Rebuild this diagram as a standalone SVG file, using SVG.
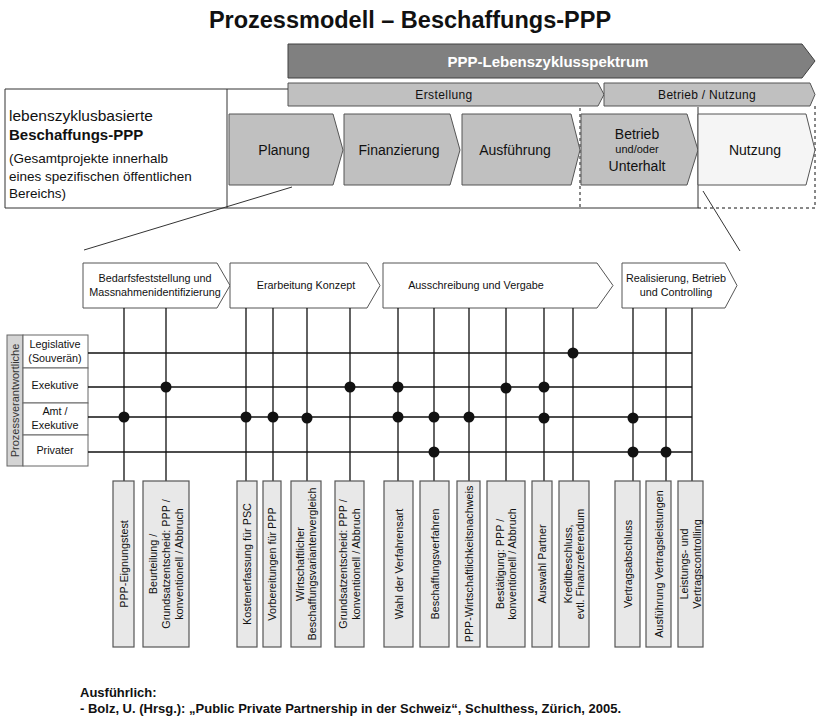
<svg xmlns="http://www.w3.org/2000/svg" width="820" height="724" viewBox="0 0 820 724">
<style>
text{font-family:"Liberation Sans",Arial,sans-serif;fill:#111}
.t{font-size:14px;text-anchor:middle}
.ph{fill:#c0c0c0;stroke:#555;stroke-width:1}
.wp{fill:#fff;stroke:#555;stroke-width:1}
.pt{font-size:10.8px;text-anchor:middle}
.bx{fill:#e8e8e8;stroke:#555;stroke-width:1.2}
.bt{font-size:10.8px;text-anchor:middle}
.rl{font-size:10.8px;text-anchor:middle}
.ln{stroke:#111;stroke-width:1.3;fill:none}
.gl{stroke:#666;stroke-width:1;fill:none}
.dot{fill:#111}
.ds{stroke:#111;stroke-width:1;stroke-dasharray:3,3;fill:none}
</style>
<rect width="820" height="724" fill="#fff"/>
<text x="410" y="28" style="font-size:23.5px;font-weight:bold;text-anchor:middle">Prozessmodell – Beschaffungs-PPP</text>

<g id="lebenszyklus">
<polygon points="288,44 802,44 815,61 802,78 288,78" fill="#808080" stroke="#404040"/>
<text x="548" y="67" style="font-size:15px;font-weight:bold;text-anchor:middle;fill:#fff">PPP-Lebenszyklusspektrum</text>
</g>
<g id="erstellung">
<polygon points="288,83 598,83 604,94.5 598,106 288,106" class="ph"/>
<text x="444" y="98.5" style="font-size:12px;text-anchor:middle;letter-spacing:0.4px">Erstellung</text>
</g>
<g id="betrieb-nutzung">
<polygon points="604,83 810,83 815,94.5 810,106 604,106" class="ph"/>
<text x="707" y="98.5" style="font-size:12px;text-anchor:middle;letter-spacing:0.3px">Betrieb / Nutzung</text>
</g>

<g id="frame">
<polyline points="288,89 5,89 5,208 698,208" class="gl" style="stroke:#333"/>
<line x1="227" y1="89" x2="227" y2="208" class="gl" style="stroke:#333"/>
<line x1="698" y1="107" x2="698" y2="208" class="gl" style="stroke:#333"/>
<line x1="698" y1="208" x2="815" y2="208" class="ds"/>
<line x1="580" y1="108" x2="580" y2="208" class="ds"/>
<line x1="815" y1="106" x2="815" y2="208" class="ds"/>
</g>

<g id="left-box">
<text x="9" y="121" style="font-size:15.5px">lebenszyklusbasierte</text>
<text x="9" y="140" style="font-size:15px;font-weight:bold">Beschaffungs-PPP</text>
<text x="9" y="163" style="font-size:13.5px">(Gesamtprojekte innerhalb</text>
<text x="9" y="181" style="font-size:13.5px">eines spezifischen öffentlichen</text>
<text x="9" y="198" style="font-size:13.5px">Bereichs)</text>
</g>

<g id="planung"><polygon points="229,114 333,114 343,150 333,185 229,185" class="ph"/><text x="284" y="155" class="t">Planung</text></g>
<g id="finanzierung"><polygon points="344,114 450,114 460,150 450,185 344,185" class="ph"/><text x="399" y="155" class="t">Finanzierung</text></g>
<g id="ausfuehrung"><polygon points="462,114 571,114 580,150 571,185 462,185" class="ph"/><text x="515" y="155" class="t">Ausführung</text></g>
<g id="betrieb"><polygon points="581,114 687,114 698,150 687,185 581,185" class="ph"/>
<text x="637" y="139" class="t">Betrieb</text><text x="637" y="153" style="font-size:11px;text-anchor:middle">und/oder</text><text x="637" y="171" class="t">Unterhalt</text></g>
<g id="nutzung"><polygon points="698,114 806,114 815,150 806,185 698,185" fill="#f5f5f5" stroke="#555"/><text x="755" y="155" class="t">Nutzung</text></g>

<g id="zoom-lines">
<line x1="292" y1="187" x2="84" y2="250" class="gl" style="stroke:#333"/>
<line x1="703" y1="191" x2="740" y2="251" class="gl" style="stroke:#333"/>
</g>

<g id="phase-bedarf"><polygon points="83,263 217,263 230,285.5 217,308 83,308" class="wp"/>
<text x="155" y="282" class="pt">Bedarfsfeststellung und</text><text x="155" y="295.5" class="pt">Massnahmenidentifizierung</text></g>
<g id="phase-konzept"><polygon points="230,263 367,263 380,285.5 367,308 230,308" class="wp"/>
<text x="306" y="289" class="pt">Erarbeitung Konzept</text></g>
<g id="phase-ausschreibung"><polygon points="383,263 597,263 613,285.5 597,308 383,308" class="wp"/>
<text x="476" y="289" class="pt">Ausschreibung und Vergabe</text></g>
<g id="phase-realisierung"><polygon points="622,263 725,263 737,285.5 725,308 622,308" class="wp"/>
<text x="676" y="282" class="pt">Realisierung, Betrieb</text><text x="676" y="295.5" class="pt">und Controlling</text></g>

<g id="roles">
<rect x="7" y="335" width="16" height="131" fill="#d4d4d4" stroke="#666"/>
<text transform="translate(19,400.5) rotate(-90)" style="font-size:11px;text-anchor:middle;fill:#333">Prozessverantwortliche</text>
<rect x="23" y="335" width="65" height="33" fill="#fff" stroke="#666"/>
<rect x="23" y="368" width="65" height="35" fill="#fff" stroke="#666"/>
<rect x="23" y="403" width="65" height="32" fill="#fff" stroke="#666"/>
<rect x="23" y="435" width="65" height="31" fill="#fff" stroke="#666"/>
<text x="55" y="348" class="rl">Legislative</text><text x="55" y="362" class="rl">(Souverän)</text>
<text x="55" y="389" class="rl">Exekutive</text>
<text x="55" y="415" class="rl">Amt /</text><text x="55" y="428.5" class="rl">Exekutive</text>
<text x="55" y="454" class="rl">Privater</text>
</g>

<g id="connectors">
<line x1="88" y1="353" x2="692" y2="353" class="ln"/>
<line x1="88" y1="387" x2="692" y2="387" class="ln"/>
<line x1="88" y1="417" x2="692" y2="417" class="ln"/>
<line x1="88" y1="452" x2="692" y2="452" class="ln"/>
<path class="ln" d="M124,308V481M166,308V481M246,308V481M273,308V481M307,308V481M350,308V481M398,308V481M434,308V481M469,308V481M506,308V481M544,308V481M573,308V481M633,308V481M666,308V481M692,308V481"/>
<circle cx="124" cy="417" r="5.5" class="dot"/>
<circle cx="166" cy="387" r="5.5" class="dot"/>
<circle cx="246" cy="417" r="5.5" class="dot"/>
<circle cx="273" cy="417" r="5.5" class="dot"/>
<circle cx="307" cy="418" r="5.5" class="dot"/>
<circle cx="350" cy="387" r="5.5" class="dot"/>
<circle cx="398" cy="387" r="5.5" class="dot"/>
<circle cx="398" cy="417" r="5.5" class="dot"/>
<circle cx="434" cy="417" r="5.5" class="dot"/>
<circle cx="434" cy="452" r="5.5" class="dot"/>
<circle cx="469" cy="417" r="5.5" class="dot"/>
<circle cx="506" cy="388" r="5.5" class="dot"/>
<circle cx="544" cy="387" r="5.5" class="dot"/>
<circle cx="544" cy="418" r="5.5" class="dot"/>
<circle cx="573" cy="353" r="5.5" class="dot"/>
<circle cx="633" cy="418" r="5.5" class="dot"/>
<circle cx="633" cy="452" r="5.5" class="dot"/>
<circle cx="666" cy="452" r="5.5" class="dot"/>
</g>

<g id="b1"><rect x="113" y="481" width="21" height="166" class="bx"/><text transform="translate(127.5,564) rotate(-90)" class="bt">PPP-Eignungstest</text></g>
<g id="b2"><rect x="143" y="481" width="46" height="166" class="bx"/><text transform="translate(170,564) rotate(-90)" class="bt"><tspan x="0" y="-13">Beurteilung /</tspan><tspan x="0" y="0">Grundsatzentscheid: PPP /</tspan><tspan x="0" y="13">konventionell / Abbruch</tspan></text></g>
<g id="b3"><rect x="237" y="481" width="20" height="166" class="bx"/><text transform="translate(251,564) rotate(-90)" class="bt">Kostenerfassung für PSC</text></g>
<g id="b4"><rect x="263" y="481" width="18" height="166" class="bx"/><text transform="translate(276,564) rotate(-90)" class="bt">Vorbereitungen für PPP</text></g>
<g id="b5"><rect x="291" y="481" width="30" height="166" class="bx"/><text transform="translate(310,564) rotate(-90)" class="bt"><tspan x="0" y="-6.3">Wirtschaftlicher</tspan><tspan x="0" y="6.3">Beschaffungsvariantenvergleich</tspan></text></g>
<g id="b6"><rect x="335" y="481" width="29" height="166" class="bx"/><text transform="translate(353.5,564) rotate(-90)" class="bt"><tspan x="0" y="-6.3">Grundsatzentscheid: PPP /</tspan><tspan x="0" y="6.3">konventionell / Abbruch</tspan></text></g>
<g id="b7"><rect x="384" y="481" width="29" height="166" class="bx"/><text transform="translate(402.5,564) rotate(-90)" class="bt">Wahl der Verfahrensart</text></g>
<g id="b8"><rect x="420" y="481" width="29" height="166" class="bx"/><text transform="translate(438.5,564) rotate(-90)" class="bt">Beschaffungsverfahren</text></g>
<g id="b9"><rect x="457" y="481" width="23" height="166" class="bx"/><text transform="translate(472.5,564) rotate(-90)" class="bt">PPP-Wirtschaftlichkeitsnachweis</text></g>
<g id="b10"><rect x="487" y="481" width="38" height="166" class="bx"/><text transform="translate(510,564) rotate(-90)" class="bt"><tspan x="0" y="-6.3">Bestätigung: PPP /</tspan><tspan x="0" y="6.3">konventionell / Abbruch</tspan></text></g>
<g id="b11"><rect x="532" y="481" width="20" height="166" class="bx"/><text transform="translate(546,564) rotate(-90)" class="bt">Auswahl Partner</text></g>
<g id="b12"><rect x="559" y="481" width="30" height="166" class="bx"/><text transform="translate(578,564) rotate(-90)" class="bt"><tspan x="0" y="-6.3">Kreditbeschluss,</tspan><tspan x="0" y="6.3">evtl. Finanzreferendum</tspan></text></g>
<g id="b13"><rect x="615" y="481" width="25" height="166" class="bx"/><text transform="translate(631.5,564) rotate(-90)" class="bt">Vertragsabschluss</text></g>
<g id="b14"><rect x="646" y="481" width="25" height="166" class="bx"/><text transform="translate(662.5,564) rotate(-90)" class="bt">Ausführung Vertragsleistungen</text></g>
<g id="b15"><rect x="678" y="481" width="25" height="166" class="bx"/><text transform="translate(694.5,564) rotate(-90)" class="bt"><tspan x="0" y="-6.3">Leistungs- und</tspan><tspan x="0" y="6.3">Vertragscontrolling</tspan></text></g>

<g id="footer">
<text x="80" y="697" style="font-size:13px;font-weight:bold">Ausführlich:</text>
<text x="80" y="713" style="font-size:13px;font-weight:bold">- Bolz, U. (Hrsg.): „Public Private Partnership in der Schweiz“, Schulthess, Zürich, 2005.</text>
</g>
</svg>
